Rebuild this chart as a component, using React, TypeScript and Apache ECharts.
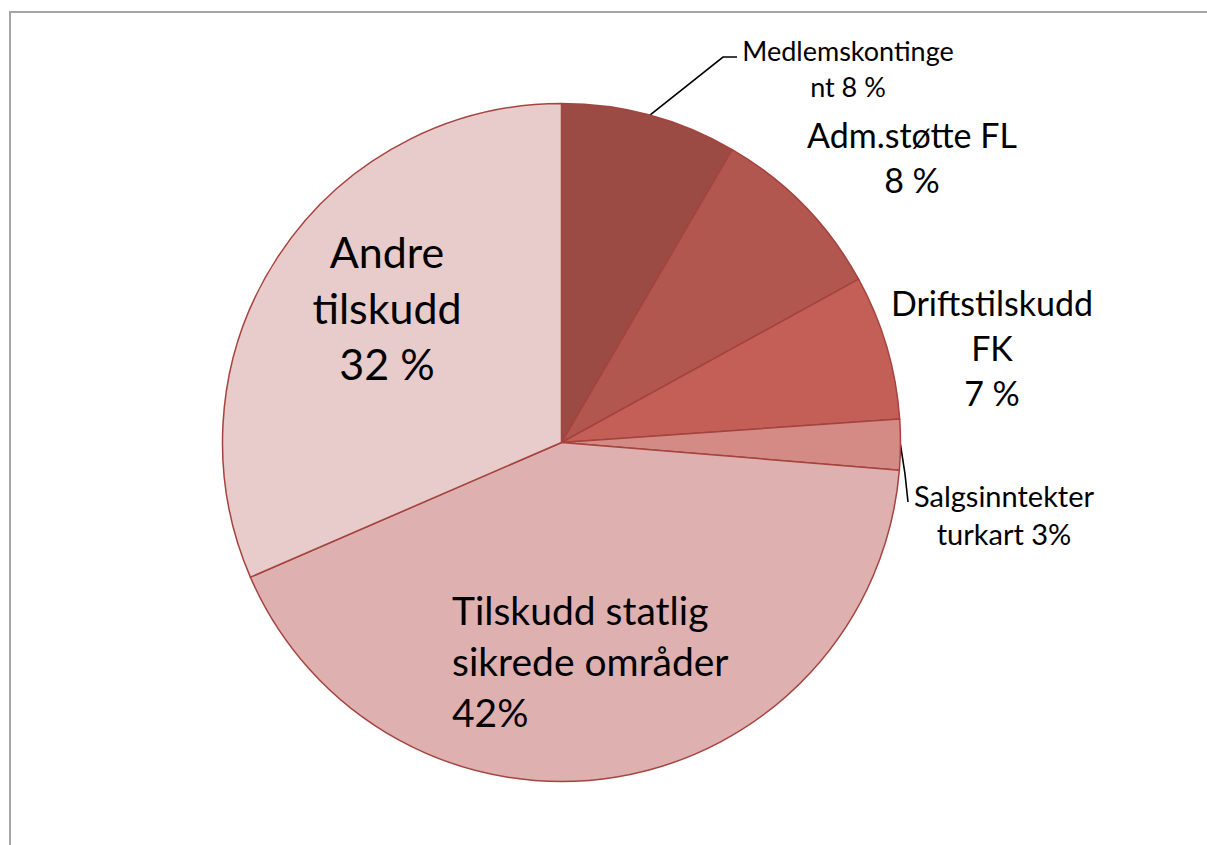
import React, { useEffect, useRef } from "react";
import * as echarts from "echarts";

// ---- data ----
const categories = [
  "Medlemskontingent",
  "Adm.støtte FL",
  "Driftstilskudd FK",
  "Salgsinntekter turkart",
  "Tilskudd statlig sikrede områder",
  "Andre tilskudd",
];
const values = [8.4, 8.6, 6.9, 2.4, 42.2, 31.5];
const labelTexts = [
  "Medlemskontinge\nnt 8 %",
  "Adm.støtte FL\n8 %",
  "Driftstilskudd\nFK\n7 %",
  "Salgsinntekter\nturkart 3%",
  "Tilskudd statlig\nsikrede områder\n42%",
  "Andre\ntilskudd\n32 %",
];

// ---- styles / layout ----
const colors = ["#9C4A44", "#B25650", "#C45F58", "#D48B86", "#DFB0B0", "#E8CBCB"];
const CX = 561.5;
const CY = 442.5;
const R = 339;
const labelAnchors: [number, number, string][] = [
  [848, 68, "center"],
  [912, 157, "center"],
  [992, 347, "center"],
  [1004, 514, "center"],
  [452, 661, "left"],
  [387, 307, "center"],
];
const labelFonts = [
  [27, 36],
  [34, 45],
  [34, 45],
  [29, 38],
  [39, 51],
  [43, 56],
];
const showLine = [true, false, false, true, false, false];

function edgePoint(i: number): number[] {
  const total = values.reduce((a, b) => a + b, 0);
  let cum = 0;
  for (let k = 0; k < i; k++) cum += values[k];
  const frac = (cum + values[i] / 2) / total;
  const a = frac * Math.PI * 2;
  return [CX + R * Math.sin(a), CY - R * Math.cos(a)];
}

export default function App() {
  const ref = useRef<HTMLDivElement>(null);
  useEffect(() => {
    if (!ref.current) return;
    const chart = echarts.init(ref.current, undefined, { renderer: "svg" });
    const data = categories.map((name, i) => ({
      name,
      value: values[i],
      itemStyle: { color: colors[i] },
      label: {
        fontSize: labelFonts[i][0],
        lineHeight: labelFonts[i][1],
        align: labelAnchors[i][2] as any,
      },
      labelLine: { show: showLine[i] },
    }));
    chart.setOption({
      animation: false,
      backgroundColor: "#ffffff",
      graphic: [
        {
          type: "rect",
          shape: { x: 10, y: 12, width: 1260, height: 900 },
          style: { fill: "none", stroke: "#A6A6A6", lineWidth: 2 },
          silent: true,
        },
      ],
      series: [
        {
          type: "pie",
          center: [CX, CY],
          radius: R,
          startAngle: 90,
          clockwise: true,
          avoidLabelOverlap: false,
          itemStyle: { borderColor: "#A5433E", borderWidth: 1.5 },
          emphasis: { disabled: true },
          label: {
            show: true,
            position: "outside",
            alignTo: "none",
            color: "#000000",
            fontFamily: "Lato",
            formatter: (p: any) => labelTexts[p.dataIndex],
          },
          labelLine: {
            lineStyle: { color: "#000000", width: 1.6 },
          },
          labelLayout: (params: any) => {
            const i = params.dataIndex;
            const [x, y, align] = labelAnchors[i];
            const res: any = {
              x,
              y,
              align,
              verticalAlign: "middle",
              hideOverlap: false,
            };
            if (showLine[i]) {
              const p0 = edgePoint(i);
              if (i === 0) res.labelLinePoints = [p0, [723, 57], [737, 57]];
              else res.labelLinePoints = [p0, [905, 474], [908, 502]];
            }
            return res;
          },
          data,
        },
      ],
    });
    return () => chart.dispose();
  }, []);
  return (
    <div
      ref={ref}
      style={{ position: "fixed", left: 0, top: 0, width: 1207, height: 845 }}
    />
  );
}
